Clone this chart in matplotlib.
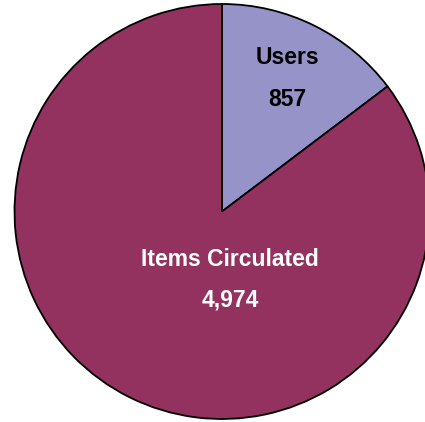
import matplotlib
matplotlib.use("Agg")
import matplotlib.pyplot as plt

categories = ["Users", "Items Circulated"]
values = [857, 4974]
value_labels = ["857", "4,974"]
colors = ["#9693C8", "#93325F"]
text_colors = ["black", "white"]

fig = plt.figure(figsize=(4.25, 4.22), dpi=100)
ax = fig.add_axes([0, 0, 1, 1])

cx, cy, r = 222, 210.5, 207.5
ax.pie(values, colors=colors, startangle=90, counterclock=False,
       center=(cx, cy), radius=r, frame=True,
       wedgeprops=dict(edgecolor="black", linewidth=1.3))
ax.set_xlim(0, 425)
ax.set_ylim(0, 422)
ax.set_aspect("equal")
ax.axis("off")

label_pos = [(287, 365, 322), (230, 162, 122)]
for cat, vl, tc, (x, y1, y2) in zip(categories, value_labels, text_colors, label_pos):
    ax.text(x, y1, cat, ha="center", va="center", color=tc,
            fontsize=16.5, fontweight="bold", family="Liberation Sans")
    ax.text(x, y2, vl, ha="center", va="center", color=tc,
            fontsize=16.5, fontweight="bold", family="Liberation Sans")

fig.savefig("out.png", dpi=100)
